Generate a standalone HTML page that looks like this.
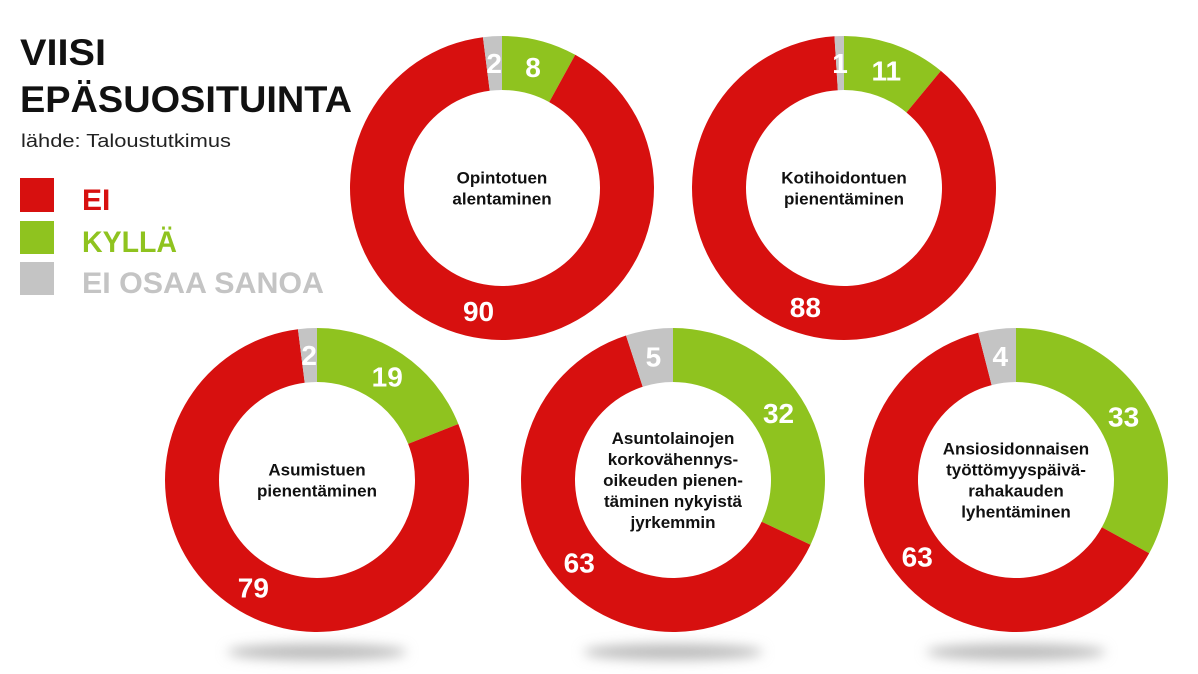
<!DOCTYPE html>
<html><head><meta charset="utf-8"><style>
body{margin:0;background:#fff;}
svg{display:block;font-family:"Liberation Sans",sans-serif;}
</style></head><body>
<svg id="chart" width="1198" height="674" viewBox="0 0 1198 674" xmlns="http://www.w3.org/2000/svg">
<defs><filter id="blur" x="-50%" y="-200%" width="200%" height="500%"><feGaussianBlur stdDeviation="6"/></filter></defs>
<g>
<text x="20" y="65" font-size="37" font-weight="bold" fill="#111" textLength="86" lengthAdjust="spacingAndGlyphs">VIISI</text>
<text x="20" y="112" font-size="37" font-weight="bold" fill="#111" textLength="332" lengthAdjust="spacingAndGlyphs">EPÄSUOSITUINTA</text>
<text x="21" y="147" font-size="18" fill="#222" textLength="210" lengthAdjust="spacingAndGlyphs">lähde: Taloustutkimus</text>
</g>
<g>
<rect x="20" y="178" width="34" height="34" fill="#d7100f"/>
<text x="82" y="210" font-size="30" font-weight="bold" fill="#d7100f">EI</text>
<rect x="20" y="221" width="34" height="33" fill="#8fc31f"/>
<text x="82" y="252" font-size="30" font-weight="bold" fill="#8fc31f" textLength="95" lengthAdjust="spacingAndGlyphs">KYLLÄ</text>
<rect x="20" y="262" width="34" height="33" fill="#c4c4c4"/>
<text x="82" y="293" font-size="30" font-weight="bold" fill="#c4c4c4" textLength="242" lengthAdjust="spacingAndGlyphs">EI OSAA SANOA</text>
</g>
<g id="donuts"></g>
</svg>
<script>
const titles=[["Opintotuen","alentaminen"],["Kotihoidontuen","pienentäminen"],["Asumistuen","pienentäminen"],["Asuntolainojen","korkovähennys-","oikeuden pienen-","täminen nykyistä","jyrkemmin"],["Ansiosidonnaisen","työttömyyspäivä-","rahakauden","lyhentäminen"]];
const kylla=[8,11,19,32,33];
const ei=[90,88,79,63,63];
const eos=[2,1,2,5,4];
const cx=[502,844,317,673,1016], cy=[188,188,480,480,480];
const R=152, r=98;
const NS="http://www.w3.org/2000/svg";
const g=document.getElementById('donuts');
function pt(a,rad,x,y){return [x+rad*Math.sin(a),y-rad*Math.cos(a)];}
function arc(x,y,a0,a1){
 const large=(a1-a0)>Math.PI?1:0;
 const [x0,y0]=pt(a0,R,x,y),[x1,y1]=pt(a1,R,x,y),[x2,y2]=pt(a1,r,x,y),[x3,y3]=pt(a0,r,x,y);
 return `M${x0},${y0}A${R},${R} 0 ${large} 1 ${x1},${y1}L${x2},${y2}A${r},${r} 0 ${large} 0 ${x3},${y3}Z`;
}
for(let i=0;i<5;i++){
 if(i>=2){
  const sh=document.createElementNS(NS,'ellipse');
  
  
  sh.setAttribute('cx',cx[i]);sh.setAttribute('cy',cy[i]+172);sh.setAttribute('rx',90);sh.setAttribute('ry',8);
  sh.setAttribute('fill','#bbb');sh.setAttribute('filter','url(#blur)');g.appendChild(sh);
 }
 const vals=[kylla[i],ei[i],eos[i]], cols=['#8fc31f','#d7100f','#c4c4c4'], names=['kylla','ei','eos'];
 const tot=vals[0]+vals[1]+vals[2];
 let a=0;
 for(let k=0;k<3;k++){
  const a1=a+vals[k]/tot*2*Math.PI;
  const p=document.createElementNS(NS,'path');
  
  
  p.setAttribute('d',arc(cx[i],cy[i],a,a1));p.setAttribute('fill',cols[k]);g.appendChild(p);
  const m=(a+a1)/2;const [tx,ty]=pt(m,(R+r)/2,cx[i],cy[i]);
  const t=document.createElementNS(NS,'text');
  
  
  t.setAttribute('x',tx);t.setAttribute('y',ty+10);t.setAttribute('text-anchor','middle');
  t.setAttribute('font-size','28');t.setAttribute('font-weight','bold');t.setAttribute('fill','#fff');
  t.textContent=vals[k];g.appendChild(t);
  a=a1;
 }
 const lines=titles[i];const lh=21;const y0=cy[i]-(lines.length-1)*lh/2+6;
 lines.forEach((s,j)=>{
  const t=document.createElementNS(NS,'text');
  
  
  t.setAttribute('x',cx[i]);t.setAttribute('y',y0+j*lh);t.setAttribute('text-anchor','middle');
  t.setAttribute('font-size','17');t.setAttribute('font-weight','bold');t.setAttribute('fill','#111');
  t.textContent=s;g.appendChild(t);
 });
}
</script>
</body></html>
